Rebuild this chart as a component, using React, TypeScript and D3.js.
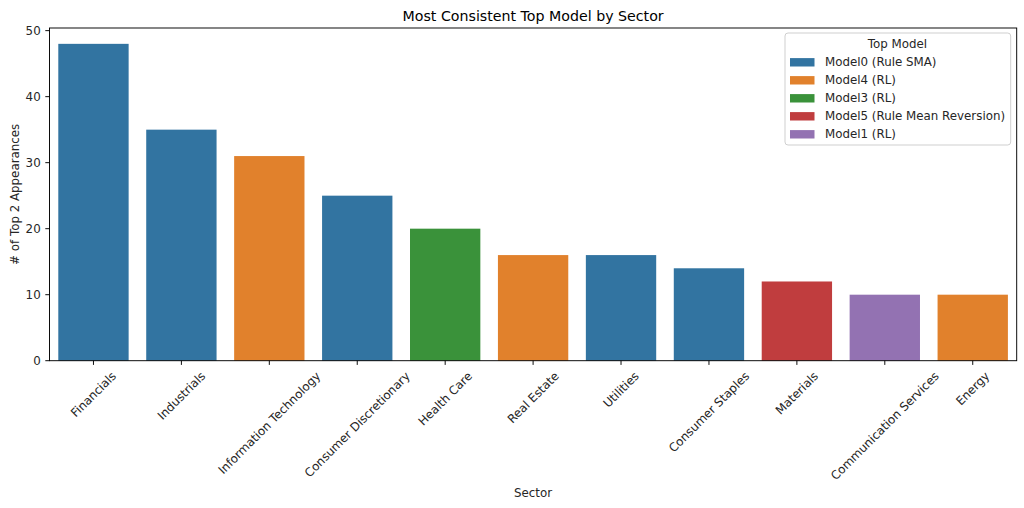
import React from "react";
import * as d3 from "d3";

const sectors = ["Financials", "Industrials", "Information Technology", "Consumer Discretionary", "Health Care", "Real Estate", "Utilities", "Consumer Staples", "Materials", "Communication Services", "Energy"];
const counts = [48, 35, 31, 25, 20, 16, 16, 14, 12, 10, 10];
const topModels = ["Model0 (Rule SMA)", "Model0 (Rule SMA)", "Model4 (RL)", "Model0 (Rule SMA)", "Model3 (RL)", "Model4 (RL)", "Model0 (Rule SMA)", "Model0 (Rule SMA)", "Model5 (Rule Mean Reversion)", "Model1 (RL)", "Model4 (RL)"];
const legendModels = ["Model0 (Rule SMA)", "Model4 (RL)", "Model3 (RL)", "Model5 (Rule Mean Reversion)", "Model1 (RL)"];
const modelColors = ["#3274a1", "#e1812c", "#3a923a", "#c03d3e", "#9372b2"];
const yTicks = [0, 10, 20, 30, 40, 50];

const W = 1024, H = 508;
const M = { left: 49.5, right: 1016.7, top: 28, bottom: 360.7 };
const FONT = "DejaVu Sans, sans-serif";
const FS = 11.85;

let ctx: CanvasRenderingContext2D | null = null;
function textWidth(s: string, size: number) {
  if (!ctx) ctx = document.createElement("canvas").getContext("2d");
  if (!ctx) return s.length * size * 0.6;
  ctx.font = `${size}px DejaVu Sans`;
  return ctx.measureText(s).width;
}

export default function App() {
  const x = d3.scaleBand<string>().domain(sectors).range([M.left, M.right]).paddingInner(0.2).paddingOuter(0.1);
  const y = d3.scaleLinear().domain([0, 48 * 1.05]).range([M.bottom, M.top]);
  const color = d3.scaleOrdinal<string, string>().domain(legendModels).range(modelColors);
  const bw = x.bandwidth();
  const txt = "#262626";

  return (
    <svg width={W} height={H} style={{ position: "absolute", left: 0, top: 0 }} fontFamily={FONT}>
      <rect width={W} height={H} fill="white" />
      <text x={(M.left + M.right) / 2} y={20.5} textAnchor="middle" fontSize={14.2} fill="black">Most Consistent Top Model by Sector</text>
      {sectors.map((s, i) => (
        <rect key={s} x={x(s)!} y={y(counts[i])} width={bw} height={y(0) - y(counts[i])} fill={color(topModels[i])} />
      ))}
      {/* y axis */}
      {yTicks.map(t => (
        <g key={t}>
          <line x1={M.left - 4.2} x2={M.left} y1={y(t)} y2={y(t)} stroke="black" strokeWidth={0.95} />
          <text x={M.left - 8.8} y={y(t)} dy="0.35em" textAnchor="end" fontSize={FS} fill={txt}>{t}</text>
        </g>
      ))}
      {/* x ticks */}
      {sectors.map(s => {
        const cx = x(s)! + bw / 2;
        const w = textWidth(s, FS);
        const h = FS * 1.16;
        const side = (w + h) / Math.SQRT2;
        const cy = M.bottom + 8.3 + side / 2;
        return (
          <g key={s}>
            <line x1={cx} x2={cx} y1={M.bottom} y2={M.bottom + 4.2} stroke="black" strokeWidth={0.95} />
            <text x={cx} y={cy} dy="0.35em" textAnchor="middle" fontSize={FS} fill={txt} transform={`rotate(-45 ${cx} ${cy})`}>{s}</text>
          </g>
        );
      })}
      <rect x={M.left} y={M.top} width={M.right - M.left} height={M.bottom - M.top} fill="none" stroke="black" strokeWidth={0.95} />
      <text x={(M.left + M.right) / 2} y={496.5} textAnchor="middle" fontSize={FS} fill={txt}>Sector</text>
      <text transform={`translate(19 ${(M.top + M.bottom) / 2}) rotate(-90)`} textAnchor="middle" fontSize={FS} fill={txt}>{"# of Top 2 Appearances"}</text>
      {/* legend */}
      <g>
        <rect x={785} y={33} width={225.7} height={112} rx={3} fill="white" fillOpacity={0.8} stroke="#cccccc" strokeWidth={0.95} />
        <text x={897.5} y={44} dy="0.35em" textAnchor="middle" fontSize={FS} fill={txt}>Top Model</text>
        {legendModels.map((m, i) => {
          const cy = 62.3 + i * 18;
          return (
            <g key={m}>
              <rect x={790} y={cy - 4.2} width={24.5} height={8.4} fill={color(m)} />
              <text x={825} y={cy} dy="0.35em" fontSize={FS} fill={txt}>{m}</text>
            </g>
          );
        })}
      </g>
    </svg>
  );
}
